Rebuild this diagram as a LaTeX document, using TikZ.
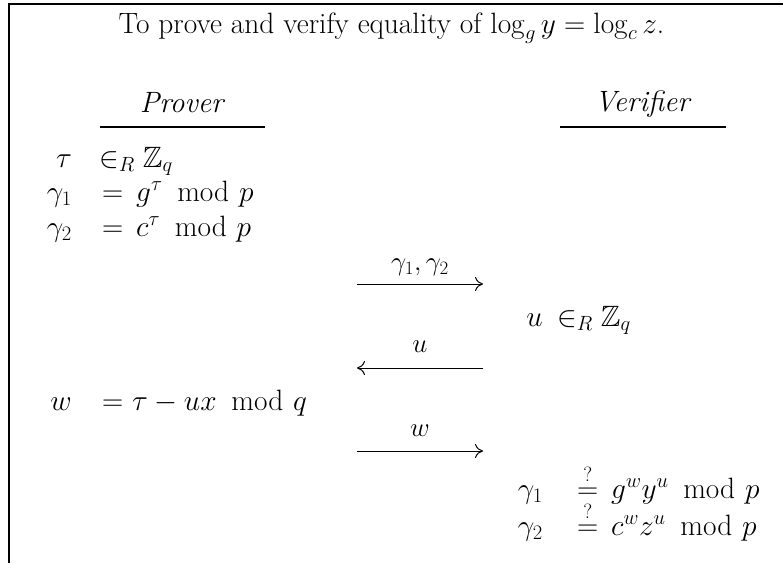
\RequirePackage{fix-cm}
\documentclass[tikz,border=0pt]{standalone}
\usepackage{amssymb}
\usetikzlibrary{arrows.meta}
\newcommand{\mymod}{\mkern9mu\mathrm{mod}\,\,}
\begin{document}
\begin{tikzpicture}[x=1pt,y=-1pt,
  txt/.style={inner sep=0pt, font=\fontsize{29.4}{35}\selectfont},
  lab/.style={inner sep=0pt, font=\fontsize{27}{32}\selectfont},
  heavy/.style={line width=2pt},
  msg/.style={line width=1pt, -{Computer Modern Rightarrow[length=8pt,width=14pt]}}
]
\useasboundingbox (0,0) rectangle (783,563);
% frame
\coordinate (fb) at (9,563);
\coordinate (fc) at (9,4);
\coordinate (fr) at (783,4);
\draw[heavy, line join=miter] (fb) -- (fc) -- (fr);
% title
\node[txt, anchor=base] (title) at (391.5,33) {To prove and verify equality of $\log_g y = \log_c z$.};
% headers
\node[txt, anchor=base] (prover) at (182.5,112) {\textit{Prover}};
\node[txt, anchor=base] (verifier) at (643,111) {\textit{Verifier}};
\coordinate (pr1) at (100,127); \coordinate (pr2) at (265,127);
\coordinate (vr1) at (560,127); \coordinate (vr2) at (726,127);
\draw[heavy] (pr1) -- (pr2);
\draw[heavy] (vr1) -- (vr2);
% prover rows
\node[txt, anchor=base east] (tauL) at (72,167) {$\tau$};
\node[txt, anchor=base west] (tauR) at (99,167) {$\in_R \mathbb{Z}_q$};
\node[txt, anchor=base east] (g1L) at (72,201) {$\gamma_1$};
\node[txt, anchor=base west] (g1M) at (102,201) {$=$};
\node[txt, anchor=base west] (g1R) at (136,201) {$g^\tau \mymod p$};
\node[txt, anchor=base east] (g2L) at (72,236) {$\gamma_2$};
\node[txt, anchor=base west] (g2M) at (102,236) {$=$};
\node[txt, anchor=base west] (g2R) at (136,236) {$c^\tau \mymod p$};
% message 1
\node[lab, anchor=base] (m1) at (420,270) {$\gamma_1,\gamma_2$};
\coordinate (a1s) at (357,284); \coordinate (a1e) at (483,284);
\draw[msg] (a1s) -- (a1e);
% verifier challenge
\node[txt, anchor=base east] (uL) at (543,326) {$u$};
\node[txt, anchor=base west] (uR) at (557,326) {$\in_R \mathbb{Z}_q$};
% message 2
\node[lab, anchor=base] (m2) at (420,352) {$u$};
\coordinate (a2s) at (483,368); \coordinate (a2e) at (357,368);
\draw[msg] (a2s) -- (a2e);
% response
\node[txt, anchor=base east] (wL) at (72,410) {$w$};
\node[txt, anchor=base west] (wM) at (102,410) {$=$};
\node[txt, anchor=base west] (wR) at (132,410) {$\tau - ux \mymod q$};
% message 3
\node[lab, anchor=base] (m3) at (420,436) {$w$};
\coordinate (a3s) at (357,451); \coordinate (a3e) at (483,451);
\draw[msg] (a3s) -- (a3e);
% verification
\node[txt, anchor=base east] (vg1L) at (543,498) {$\gamma_1$};
\node[txt, anchor=base west] (vg1M) at (577,498) {$\stackrel{?}{=}$};
\node[txt, anchor=base west] (vg1R) at (611,498) {$g^w y^u \mymod p$};
\node[txt, anchor=base east] (vg2L) at (543,535) {$\gamma_2$};
\node[txt, anchor=base west] (vg2M) at (577,535) {$\stackrel{?}{=}$};
\node[txt, anchor=base west] (vg2R) at (611,535) {$c^w z^u \mymod p$};
\end{tikzpicture}
\end{document}
